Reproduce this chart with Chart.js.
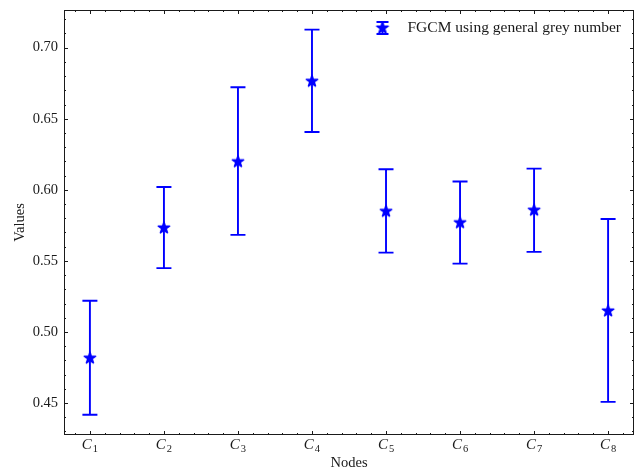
<!DOCTYPE html>
<html><head><meta charset="utf-8">
<script src="https://cdn.jsdelivr.net/npm/chart.js@4.4.1/dist/chart.umd.min.js"></script>
<style>html,body{margin:0;padding:0;background:#fff}#wrap{width:643px;height:470px;position:relative}</style>
</head><body><div id="wrap"><canvas id="c" width="643" height="470"></canvas></div>
<script>
// ---- data ----
const categories = ['1','2','3','4','5','6','7','8']; // subscripts of C
const means  = [0.4816, 0.5732, 0.6198, 0.6764, 0.5849, 0.5769, 0.5857, 0.5148];
const lowers = [0.4417, 0.5449, 0.5683, 0.6407, 0.5558, 0.5481, 0.5563, 0.4508];
const uppers = [0.5219, 0.6020, 0.6722, 0.7127, 0.6145, 0.6058, 0.6149, 0.5795];
const yTicks = [0.45, 0.50, 0.55, 0.60, 0.65, 0.70];
const seriesLabel = 'FGCM using general grey number';
const xTitle = 'Nodes';
const yTitle = 'Values';

const BLUE = '#0000ff';
const AX = '#1a1a1a';
const FONT = '"Liberation Serif", "DejaVu Serif", serif';

function starCanvas(size, r) {
  const c = document.createElement('canvas');
  c.width = size; c.height = size;
  const g = c.getContext('2d');
  const cx = size / 2, cy = size / 2, ri = r * 0.381966;
  g.beginPath();
  for (let k = 0; k < 10; k++) {
    const rad = k % 2 === 0 ? r : ri;
    const a = -Math.PI / 2 + k * Math.PI / 5;
    const px = cx + rad * Math.cos(a), py = cy + rad * Math.sin(a);
    if (k === 0) g.moveTo(px, py); else g.lineTo(px, py);
  }
  g.closePath();
  g.fillStyle = BLUE; g.fill();
  g.lineJoin = 'round';
  g.lineWidth = 1.5; g.strokeStyle = BLUE; g.stroke();
  return c;
}
const star = starCanvas(16, 6);

const errPlugin = {
  id: 'errbars',
  beforeDatasetsDraw(chart) {
    const ctx = chart.ctx, xs = chart.scales.x, ys = chart.scales.y;
    ctx.save();
    ctx.strokeStyle = BLUE; ctx.lineWidth = 1.9; ctx.lineCap = 'butt';
    means.forEach((m, i) => {
      const x = xs.getPixelForValue(i);
      const yl = ys.getPixelForValue(lowers[i]);
      const yu = ys.getPixelForValue(uppers[i]);
      ctx.beginPath();
      ctx.moveTo(x, yl); ctx.lineTo(x, yu);
      ctx.moveTo(x - 7.5, yl); ctx.lineTo(x + 7.5, yl);
      ctx.moveTo(x - 7.5, yu); ctx.lineTo(x + 7.5, yu);
      ctx.stroke();
    });
    ctx.restore();
  },
  afterDraw(chart) {
    const ctx = chart.ctx, xs = chart.scales.x, ys = chart.scales.y;
    const a = chart.chartArea;
    ctx.save();
    // frame
    ctx.strokeStyle = AX; ctx.lineWidth = 1;
    ctx.strokeRect(Math.round(a.left) + 0.5, Math.round(a.top) + 0.5,
                   Math.round(a.right - a.left) - 1, Math.round(a.bottom - a.top) - 1);
    // y ticks (inward, both sides)
    ctx.beginPath();
    for (let v = 43; v <= 72; v++) {
      const val = v / 100;
      const y = Math.round(ys.getPixelForValue(val)) + 0.5;
      const major = yTicks.some(t => Math.abs(t - val) < 1e-6);
      const L = major ? 4 : 2;
      ctx.moveTo(a.left, y); ctx.lineTo(a.left + L, y);
      ctx.moveTo(a.right, y); ctx.lineTo(a.right - L, y);
    }
    // x ticks
    for (let k = -1; k <= 36; k++) {
      const val = k / 5;
      if (val < xs.min || val > xs.max) continue;
      const x = Math.round(xs.getPixelForValue(val)) + 0.5;
      const L = (k % 5 === 0) ? 4 : 2;
      ctx.moveTo(x, a.bottom); ctx.lineTo(x, a.bottom - L);
      ctx.moveTo(x, a.top); ctx.lineTo(x, a.top + L);
    }
    ctx.stroke();
    // x tick labels: italic C with subscript
    ctx.fillStyle = AX; ctx.textBaseline = 'alphabetic';
    categories.forEach((s, i) => {
      const x = xs.getPixelForValue(i);
      ctx.font = 'italic 15px ' + FONT;
      const wC = ctx.measureText('C').width;
      ctx.font = '10.5px ' + FONT;
      const wS = ctx.measureText(s).width;
      const x0 = x - (wC + wS + 1) / 2;
      const base = a.bottom + 14;
      ctx.font = 'italic 15px ' + FONT;
      ctx.textAlign = 'left';
      ctx.fillText('C', x0, base);
      ctx.font = '10.5px ' + FONT;
      ctx.fillText(s, x0 + wC + 1, base + 3);
    });
    // legend
    ctx.font = '15.5px ' + FONT;
    ctx.textAlign = 'right'; ctx.textBaseline = 'middle';
    const tx = a.right - 13, ty = a.top + 18;
    ctx.fillText(seriesLabel, tx, ty);
    const tw = ctx.measureText(seriesLabel).width;
    const ix = Math.round(tx - tw - 25) + 0.5, iy = ty;
    ctx.strokeStyle = BLUE; ctx.lineWidth = 1.9;
    ctx.beginPath();
    ctx.moveTo(ix, iy - 6); ctx.lineTo(ix, iy + 6);
    ctx.moveTo(ix - 6, iy - 6); ctx.lineTo(ix + 6, iy - 6);
    ctx.moveTo(ix - 6, iy + 6); ctx.lineTo(ix + 6, iy + 6);
    ctx.stroke();
    ctx.drawImage(star, ix - 8, iy - 8);
    ctx.restore();
  }
};

new Chart(document.getElementById('c'), {
  type: 'scatter',
  data: {
    datasets: [{
      label: seriesLabel,
      data: means.map((m, i) => ({ x: i, y: m })),
      pointStyle: star,
      pointRadius: 8,
      pointHoverRadius: 8,
      showLine: false
    }]
  },
  options: {
    responsive: false,
    animation: false,
    events: [],
    layout: { padding: { left: 0, top: 10, right: 9, bottom: 0 } },
    plugins: { legend: { display: false }, tooltip: { enabled: false } },
    scales: {
      x: {
        type: 'linear', min: -0.35, max: 7.35,
        grid: { display: false, drawTicks: false },
        border: { display: false },
        ticks: { display: false },
        afterBuildTicks: s => { s.ticks = categories.map((_, i) => ({ value: i })); },
        afterFit: s => { s.height = 35; s.paddingLeft = 0; s.paddingRight = 0; },
        title: { display: true, text: xTitle, color: AX,
                 font: { family: FONT, size: 14.5, lineHeight: 1 }, padding: { top: 0, bottom: 0 } }
      },
      y: {
        min: 0.4275, max: 0.7265,
        grid: { display: false, drawTicks: false },
        border: { display: false },
        afterBuildTicks: s => { s.ticks = yTicks.map(v => ({ value: v })); },
        ticks: { color: AX, padding: 6, font: { family: FONT, size: 14.5 },
                 callback: v => v.toFixed(2) },
        afterFit: s => { s.width = 64; s.paddingTop = 0; s.paddingBottom = 0; },
        title: { display: true, text: yTitle, color: AX,
                 font: { family: FONT, size: 14.5, lineHeight: 1 }, padding: { top: 13, bottom: 0 } }
      }
    }
  },
  plugins: [errPlugin]
});
</script></body></html>
